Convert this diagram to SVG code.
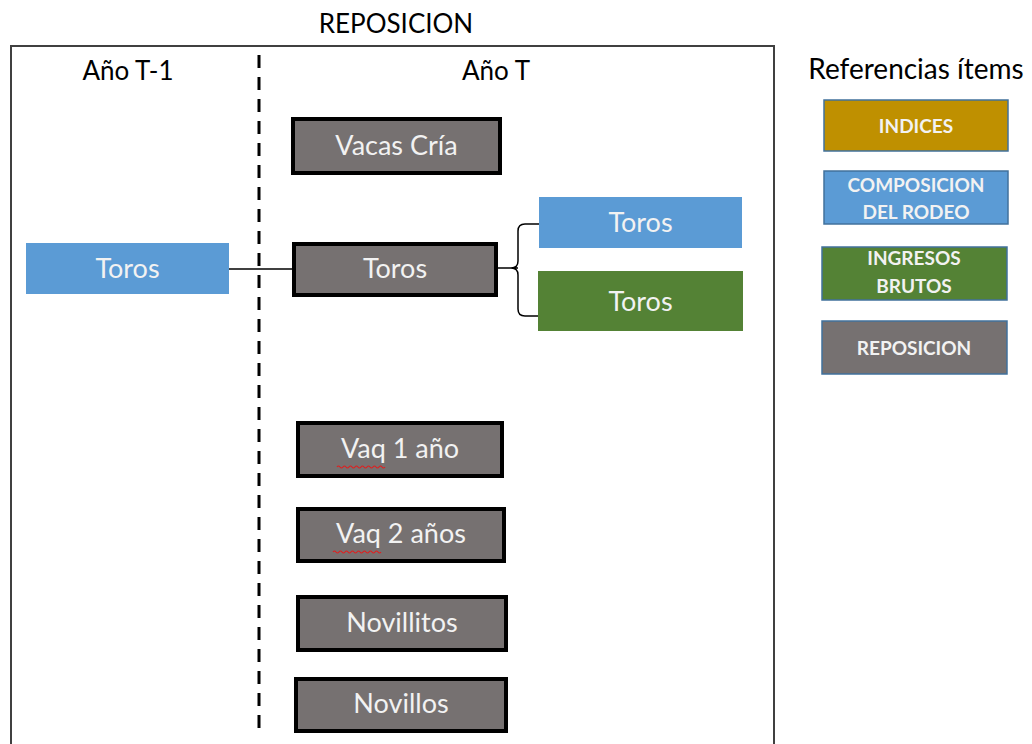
<svg xmlns="http://www.w3.org/2000/svg" width="1032" height="744" viewBox="0 0 1032 744">
<style>
.t{font-family:Lato,"Open Sans","Liberation Sans",sans-serif;}
.hd{font-size:26px;fill:#000;text-anchor:middle;}
.lbl{font-size:27px;fill:#f2f2f2;text-anchor:middle;}
.leg{font-size:19px;font-weight:bold;fill:#f2f2f2;text-anchor:middle;}
.rep{fill:#767171;stroke:#000;stroke-width:4;}
.blue{fill:#5b9bd5;}
.green{fill:#548235;}
.gold{fill:#bf9000;}
.lg{stroke:#41719c;stroke-width:1.5;}
.sq{fill:none;stroke:#e02020;stroke-width:1.2;}
</style>
<rect x="11" y="46" width="763" height="710" fill="none" stroke="#404040" stroke-width="2"/>
<text class="t hd" x="396" y="33">REPOSICION</text>
<text class="t hd" x="128" y="80">Año T-1</text>
<text class="t hd" x="496" y="80">Año T</text>
<text class="t hd" x="916" y="79" style="font-size:28px">Referencias ítems</text>
<line x1="259" y1="55" x2="259" y2="736" stroke="#000" stroke-width="3" stroke-dasharray="13,9"/>
<g id="connectors" fill="none" stroke="#000" stroke-width="1.5">
<line x1="229" y1="269" x2="292" y2="269"/>
<path d="M498,268 H518 M539,224 H525 Q518,224 518,231 V261 Q518,268 511,268 Q518,268 518,275 V309 Q518,316 525,316 H539"/>
</g>
<g id="toros_t1"><rect class="blue" x="26" y="243" width="203" height="51"/><text class="t lbl" x="127.5" y="278">Toros</text></g>
<g id="vacas_cria"><rect class="rep" x="293" y="119" width="207" height="54"/><text class="t lbl" x="396.5" y="155">Vacas Cría</text></g>
<g id="toros_rep"><rect class="rep" x="294" y="244" width="202" height="51"/><text class="t lbl" x="395" y="278">Toros</text></g>
<g id="toros_comp"><rect class="blue" x="539" y="197" width="203" height="51"/><text class="t lbl" x="640.5" y="232">Toros</text></g>
<g id="toros_ing"><rect class="green" x="538" y="271" width="205" height="60"/><text class="t lbl" x="640.5" y="311">Toros</text></g>
<g id="vaq1"><rect class="rep" x="298" y="423" width="204" height="53"/><text class="t lbl" x="400" y="458">Vaq 1 año</text><path class="sq" d="M337,467 q1.5,-2 3,0 t3,0 t3,0 t3,0 t3,0 t3,0 t3,0 t3,0 t3,0 t3,0 t3,0 t3,0 t3,0 t3,0 t3,0 t3,0"/></g>
<g id="vaq2"><rect class="rep" x="298" y="509" width="206" height="52"/><text class="t lbl" x="401" y="543">Vaq 2 años</text><path class="sq" d="M333,552 q1.5,-2 3,0 t3,0 t3,0 t3,0 t3,0 t3,0 t3,0 t3,0 t3,0 t3,0 t3,0 t3,0 t3,0 t3,0 t3,0 t3,0"/></g>
<g id="novillitos"><rect class="rep" x="298" y="597" width="208" height="53"/><text class="t lbl" x="402" y="632">Novillitos</text></g>
<g id="novillos"><rect class="rep" x="296" y="679" width="210" height="52"/><text class="t lbl" x="401" y="713">Novillos</text></g>
<g id="leg_indices"><rect class="gold lg" x="824" y="100" width="184" height="51"/><text class="t leg" x="916" y="133">INDICES</text></g>
<g id="leg_comp"><rect class="blue lg" x="824" y="171" width="184" height="53"/><text class="t leg" x="916" y="192">COMPOSICION</text><text class="t leg" x="916" y="219">DEL RODEO</text></g>
<g id="leg_ing"><rect class="green lg" x="822" y="247" width="185" height="53"/><text class="t leg" x="914" y="265">INGRESOS</text><text class="t leg" x="914" y="293">BRUTOS</text></g>
<g id="leg_rep"><rect fill="#767171" class="lg" x="822" y="321" width="185" height="53"/><text class="t leg" x="914" y="355">REPOSICION</text></g>
</svg>
